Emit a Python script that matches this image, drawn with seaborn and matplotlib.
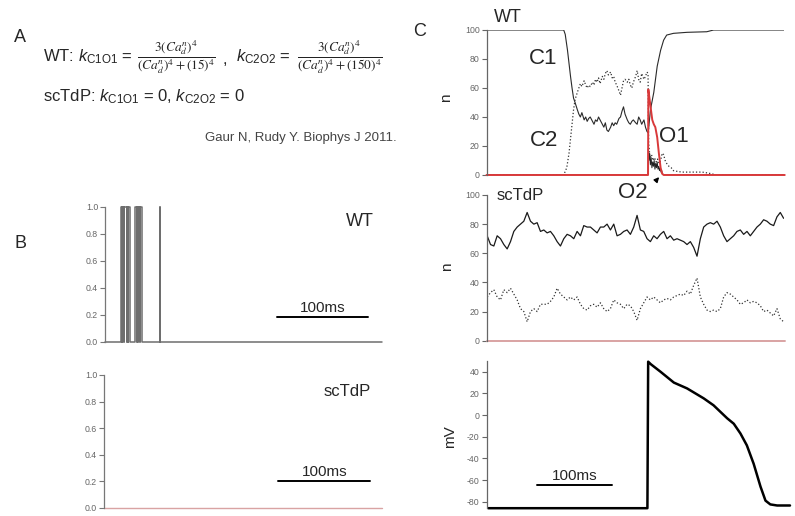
import numpy as np
import pandas as pd
import matplotlib
matplotlib.use("Agg")
import matplotlib.pyplot as plt
import seaborn as sns

sns.set_style("white")
plt.rcParams['font.family'] = ['Liberation Sans', 'DejaVu Sans']
plt.rcParams['mathtext.fontset'] = 'custom'
plt.rcParams['mathtext.rm'] = 'Liberation Sans'
plt.rcParams['mathtext.it'] = 'Liberation Sans:italic'
plt.rcParams['mathtext.bf'] = 'Liberation Sans:bold'

W, H = 795, 516

# ---------------- DATA ----------------
# Panel B, WT: single channel open state (0 closed / 1 open), step transitions (ms)
b_wt_t = [0, 17.2, 18.4, 18.6, 19.0, 19.2, 20.9, 21.1, 23.8, 24.0, 25.2, 25.4, 25.6, 25.8,
          27.3, 33.0, 34.8, 35.0, 36.6, 36.8, 38.5, 38.7, 40.3, 60.4, 60.6, 304]
b_wt_s = [0, 1, 0, 1, 0, 1, 0, 1, 0, 1, 0, 1, 0, 1,
          0, 1, 0, 1, 0, 1, 0, 1, 0, 1, 0, 0]
# Panel B, scTdP: no openings
b_sc_t = [0, 304]
b_sc_s = [0, 0]

# Panel C, WT channel-state counts (n) vs time (ms)
wt_c1_t = [0, 102, 104, 107, 111, 113, 115, 117,
           120, 122, 124, 126, 129, 131, 133, 135, 137, 140, 142, 144, 146, 148, 150,
           153, 155, 157, 159, 161, 164, 166, 168, 170, 172, 175, 177, 179, 181, 183,
           186, 188, 190, 192, 194, 197, 199, 201, 203, 205, 208, 210, 212, 213.6,
           216.6, 221, 225.5, 230, 234, 238, 247, 265, 291, 300, 394]
wt_c1_v = [100, 100, 97, 86, 68, 60, 53, 50,
           45, 42, 40, 43, 38, 40, 37, 39, 40, 37, 35, 38, 37, 40, 38,
           35, 33, 36, 31, 30, 33, 36, 34, 36, 35, 39, 40, 44, 47, 42,
           38, 36, 35, 37, 38, 36, 35, 40, 38, 35, 38, 33, 30, 29,
           45, 57, 75, 86, 93, 96.5, 97.7, 98.4, 98.8, 100, 100]

wt_c2_t = [0, 102, 106, 109, 112, 115, 117, 120, 122, 124, 126, 129, 131, 133, 135,
           137, 140, 142, 144, 146, 148, 150, 153, 155, 157, 159, 161, 164, 166, 168,
           170, 172, 175, 177, 179, 181, 183, 186, 188, 190, 192, 194, 197, 199, 201,
           203, 205, 208, 210, 212, 213.4, 214.2, 216, 218, 220, 222, 224, 226, 228,
           230, 232, 234, 236, 238, 241, 244, 247, 252, 258, 265, 275, 285, 291, 296,
           300, 302, 394]
wt_c2_v = [0, 0, 5, 15, 30, 45, 52, 57, 60, 63, 61, 65, 62, 60, 62,
           61, 64, 62, 66, 64, 67, 63, 68, 66, 70, 72, 69, 71, 67, 68,
           64, 62, 58, 55, 60, 65, 66, 64, 66, 62, 60, 64, 68, 72, 66,
           64, 70, 66, 68, 71, 70, 22, 12, 14, 10, 12, 9, 11, 8,
           10, 15, 14, 10, 8, 6, 5, 3, 2.5, 2, 2, 2, 2, 1.5, 1,
           0.5, 0, 0]

wt_o2_t = [0, 213.4, 213.8, 214.5, 215.5, 216.5, 217.5, 218.5, 219.5, 220.5, 221.5,
           222.5, 223.5, 224.5, 225.5, 226.5, 227.5, 228.5, 229.5, 230.5, 231.5, 232.5, 394]
wt_o2_v = [0, 0, 18, 10, 15, 7, 12, 5, 9, 6, 10,
           4, 8, 5, 9, 4, 6, 3, 5, 2, 3, 0, 0]

wt_o1_t = [0, 213.4, 213.8, 216, 219, 221, 223, 225.5, 227.7, 230, 232, 234, 394]
wt_o1_v = [0, 0, 59, 50, 38, 35, 33, 26, 15, 5, 1, 0, 0]

# Panel C, scTdP: counts sampled every ~4.4 ms
sc_t = list(np.round(np.linspace(0.9, 392.5, 90), 1))
sc_c1_v = [72, 66, 65, 72, 70, 66, 63, 68, 75, 78,
           80, 82, 88, 82, 80, 81, 75, 76, 74, 75,
           72, 68, 65, 70, 73, 72, 70, 75, 72, 79,
           78, 78, 76, 74, 78, 78, 80, 76, 80, 72,
           73, 75, 76, 73, 78, 86, 76, 75, 70, 68,
           72, 70, 73, 75, 70, 72, 69, 70, 69, 68,
           66, 68, 64, 58, 70, 78, 80, 81, 80, 82,
           78, 72, 68, 70, 72, 75, 76, 73, 75, 72,
           75, 78, 80, 83, 82, 80, 79, 85, 88, 84]
sc_c2_v = [30, 33, 35, 30, 28, 35, 33, 36, 32, 28,
           22, 20, 13, 20, 22, 20, 25, 25, 25, 27,
           30, 36, 32, 30, 28, 30, 28, 30, 25, 22,
           21, 24, 25, 23, 26, 22, 20, 22, 28, 26,
           25, 22, 25, 24, 20, 14, 22, 26, 30, 28,
           30, 28, 26, 28, 29, 28, 30, 31, 32, 31,
           34, 32, 38, 43, 30, 25, 21, 20, 21, 20,
           22, 30, 33, 32, 30, 28, 25, 26, 28, 26,
           27, 26, 24, 20, 21, 19, 17, 22, 15, 13]
sc_o_t = [0, 394]
sc_o_v = [0, 0]

# Action potential (mV)
ap_t = [2.5, 212.6, 213.6, 217, 229.9, 247.5, 265, 287, 300, 309, 318, 326.7,
        335.5, 344, 353, 362, 368.6, 375, 384, 401]
ap_v = [-86, -86, 49.3, 47, 40, 30, 24.6, 15.4, 9, 3, -3, -8,
        -17, -28, -45, -66, -79, -82.5, -83.5, -83.5]

b_ticks = [0.0, 0.2, 0.4, 0.6, 0.8, 1.0]
n_ticks = [0, 20, 40, 60, 80, 100]
mv_ticks = [-80, -60, -40, -20, 0, 20, 40]
SCALE_MS = 100

# ---------------- FIGURE ----------------
fig = plt.figure(figsize=(W / 100, H / 100), dpi=100)
fig.patch.set_facecolor('white')


def rect(x0, x1, ytop, ybot):
    return [x0 / W, 1 - ybot / H, (x1 - x0) / W, (ybot - ytop) / H]


def style_axis(ax, ylim, xlim, ticks, fmt, spine_col='#777777'):
    ax.set_xlim(*xlim)
    ax.set_ylim(*ylim)
    for s in ['top', 'right', 'bottom']:
        ax.spines[s].set_visible(False)
    ax.spines['left'].set_color(spine_col)
    ax.spines['left'].set_linewidth(0.9)
    if fmt == 'ap':
        ax.spines['left'].set_bounds(-85.5, 50)
    else:
        ax.spines['left'].set_bounds(ticks[0], ticks[-1])
    ax.set_xticks([])
    ax.set_yticks(ticks)
    if fmt == 'b':
        ax.set_yticklabels([f"{t:.1f}" for t in ticks])
    else:
        ax.set_yticklabels([f"{t:d}" for t in ticks])
    ax.tick_params(axis='y', direction='out', length=3.5, width=0.8, color=spine_col,
                   labelsize=6.3, labelcolor='#666666', pad=1.5, left=True)
    ax.set_xlabel('')
    ax.set_ylabel('')
    ax.patch.set_alpha(0)


def ftext(x, y, s, **kw):
    fig.text(x / W, 1 - y / H, s, **kw)


# Panel B WT
axb1 = fig.add_axes(rect(105, 381.7, 206.7, 341.7))
sns.lineplot(x=b_wt_t, y=b_wt_s, ax=axb1, estimator=None, sort=False,
             drawstyle='steps-post', color='#6e6e6e', lw=1.1, clip_on=False)
style_axis(axb1, (0, 1), (0, 304), b_ticks, 'b')
axb1.plot([189, 189 + SCALE_MS], [0.18, 0.18], color='black', lw=1.4, clip_on=False)

# Panel B scTdP
axb2 = fig.add_axes(rect(104, 381.7, 375, 507.7))
sns.lineplot(x=b_sc_t, y=b_sc_s, ax=axb2, estimator=None, color='#d9a3a3', lw=1.0,
             clip_on=False)
style_axis(axb2, (0, 1), (0, 304), b_ticks, 'b')
axb2.plot([191, 191 + SCALE_MS], [0.2, 0.2], color='black', lw=1.4, clip_on=False)

# Panel C WT
axc1 = fig.add_axes(rect(486.5, 784.3, 30, 175))
sns.lineplot(x=wt_c1_t, y=wt_c1_v, ax=axc1, estimator=None, color='#2a2a2a', lw=0.8)
sns.lineplot(x=wt_c2_t, y=wt_c2_v, ax=axc1, estimator=None, color='#333333', lw=0.9,
             linestyle=':')
sns.lineplot(x=wt_o2_t, y=wt_o2_v, ax=axc1, estimator=None, color='#222222', lw=0.7)
sns.lineplot(x=wt_o1_t, y=wt_o1_v, ax=axc1, estimator=None, color='#d9393a', lw=1.4,
             clip_on=False)
style_axis(axc1, (0, 100), (0, 393.4), n_ticks, 'n', spine_col='#666666')

# Panel C scTdP
axc2 = fig.add_axes(rect(486.5, 784.3, 195, 340.7))
sns.lineplot(x=sc_t, y=sc_c1_v, ax=axc2, estimator=None, color='#1a1a1a', lw=0.9)
sns.lineplot(x=sc_t, y=sc_c2_v, ax=axc2, estimator=None, color='#333333', lw=0.9,
             linestyle=':')
sns.lineplot(x=sc_o_t, y=sc_o_v, ax=axc2, estimator=None, color='#d9a3a3', lw=1.4,
             clip_on=False)
style_axis(axc2, (0, 100), (0, 393.4), n_ticks, 'n', spine_col='#666666')

# Panel C AP
axc3 = fig.add_axes(rect(486.5, 790, 360.9, 508.2))
sns.lineplot(x=ap_t, y=ap_v, ax=axc3, estimator=None, color='black', lw=1.8,
             clip_on=False)
style_axis(axc3, (-86, 50), (0, 401), mv_ticks, 'ap', spine_col='#666666')
axc3.plot([66.3, 66.3 + SCALE_MS], [-64.6, -64.6], color='black', lw=1.4, clip_on=False)

# ---------------- TEXT ----------------
ftext(20, 38, 'A', fontsize=13, ha='center', va='center')
ftext(21, 244, 'B', fontsize=13, ha='center', va='center')
ftext(420, 32, 'C', fontsize=13, ha='center', va='center')

ftext(43, 57, r'WT: $k_{\mathrm{C1O1}}$ =', fontsize=12, ha='left', va='center')
ftext(176.5, 57, r'$\dfrac{3(Ca_d^n)^4}{(Ca_d^n)^4+(15)^4}$', fontsize=9.6,
      ha='center', va='center', math_fontfamily='stix', color='#222222')
ftext(223, 60, ',', fontsize=12, ha='left', va='center')
ftext(236, 57, r'$k_{\mathrm{C2O2}}$ =', fontsize=12, ha='left', va='center')
ftext(340, 57, r'$\dfrac{3(Ca_d^n)^4}{(Ca_d^n)^4+(150)^4}$', fontsize=9.6,
      ha='center', va='center', math_fontfamily='stix', color='#222222')
ftext(43, 97, r'scTdP: $k_{\mathrm{C1O1}}$ = 0, $k_{\mathrm{C2O2}}$ = 0', fontsize=12,
      ha='left', va='center')
ftext(397, 138, 'Gaur N, Rudy Y. Biophys J 2011.', fontsize=9.5, ha='right',
      va='center', color='#444444')

ftext(360, 222, 'WT', fontsize=13, ha='center', va='center')
ftext(323, 308, '100ms', fontsize=11, ha='center', va='center')
ftext(347, 392, 'scTdP', fontsize=12, ha='center', va='center')
ftext(325, 472, '100ms', fontsize=11, ha='center', va='center')

ftext(508, 18, 'WT', fontsize=13, ha='center', va='center')
ftext(543, 58, 'C1', fontsize=16, ha='center', va='center')
ftext(544, 141, 'C2', fontsize=16, ha='center', va='center')
ftext(674, 137, 'O1', fontsize=16, ha='center', va='center')
ftext(633, 192, 'O2', fontsize=16, ha='center', va='center')
ftext(446, 98, 'n', fontsize=11, ha='center', va='center', rotation=90)
ftext(520, 195, 'scTdP', fontsize=12, ha='center', va='center')
ftext(447, 267, 'n', fontsize=11, ha='center', va='center', rotation=90)
ftext(450, 437, 'mV', fontsize=11, ha='center', va='center', rotation=90)
ftext(575, 476, '100ms', fontsize=11, ha='center', va='center')

fig.add_artist(matplotlib.patches.FancyArrowPatch(
    (654 / W, 1 - 183 / H), (661 / W, 1 - 175 / H), transform=fig.transFigure,
    arrowstyle='-|>', mutation_scale=7, color='black', lw=1.0))

fig.savefig('out.png', dpi=100, facecolor='white')
